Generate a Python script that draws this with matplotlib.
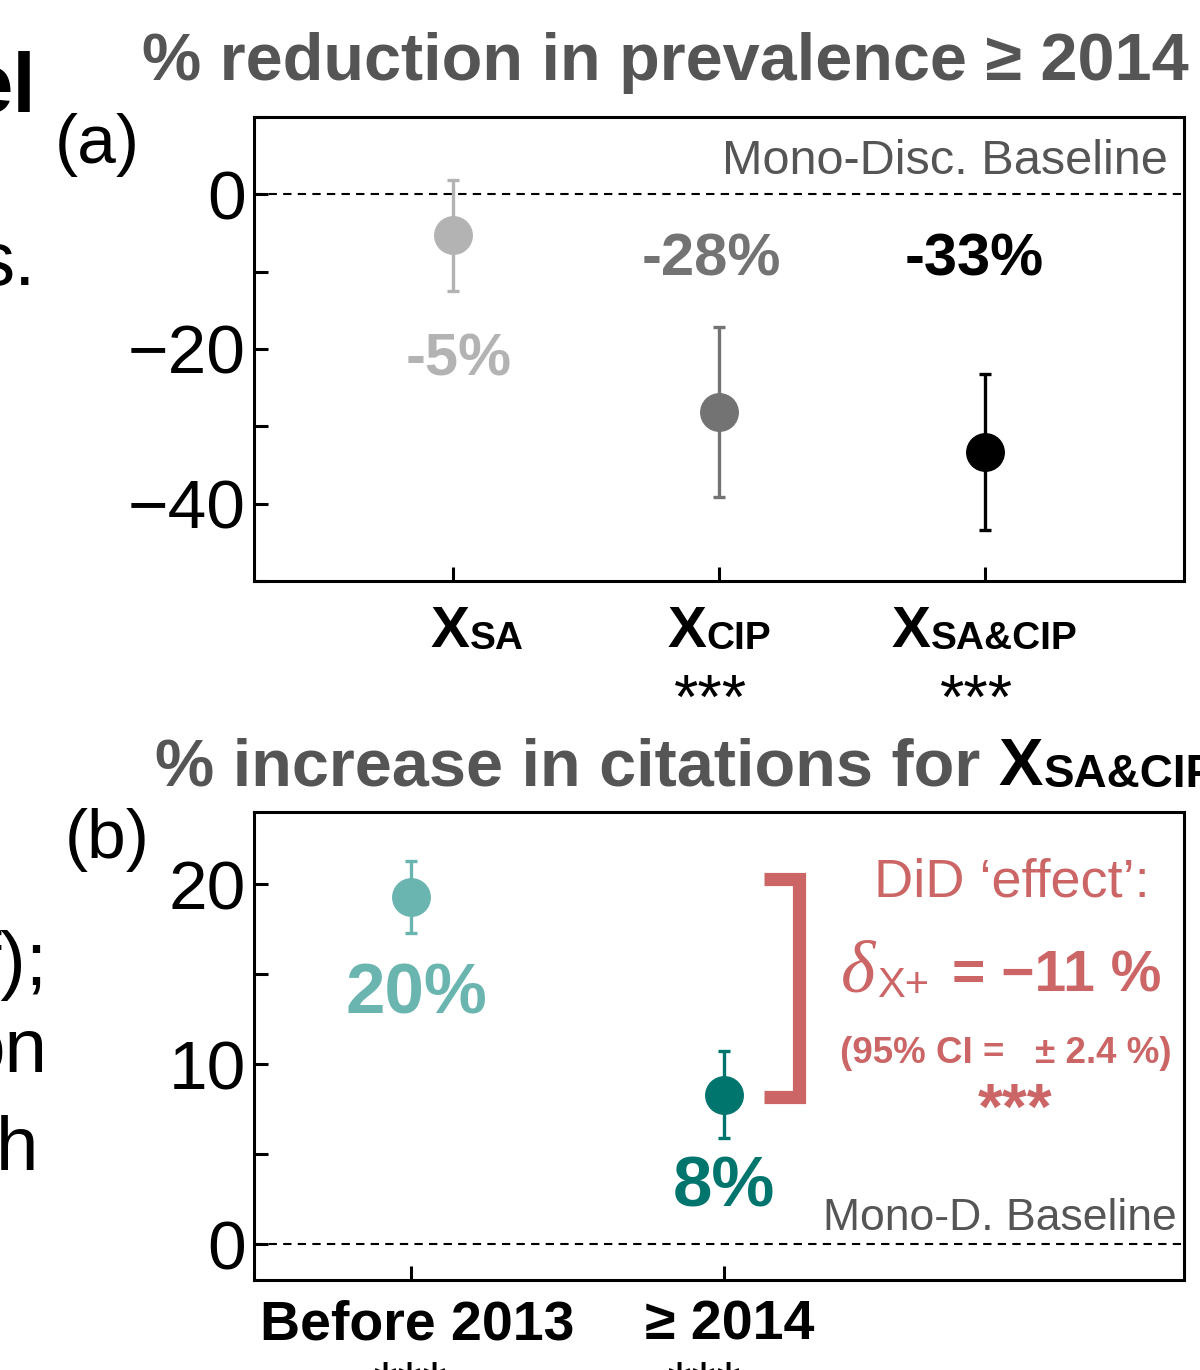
import numpy as np
import matplotlib.pyplot as plt

plt.rcParams['font.family'] = ['Liberation Sans', 'DejaVu Sans']

# panel (a): % reduction in prevalence >= 2014
a_subs = ['SA', 'CIP', 'SA&CIP']
a_mean = [-5.3, -28.1, -33.3]
a_low = [-12.5, -39.1, -43.4]
a_high = [1.9, -17.2, -23.2]
a_labels = ['-5%', '-28%', '-33%']
a_stars = ['', '***', '***']
a_colors = ['#b3b3b3', '#737373', '#000000']

# panel (b): % increase in citations for X_SA&CIP
b_names = ['Before 2013', '\u2265 2014']
b_mean = [19.3, 8.3]
b_low = [17.3, 5.9]
b_high = [21.3, 10.7]
b_labels = ['20%', '8%']
b_colors = ['#6bb5b1', '#00756e']
did_effect = '\u221211 %'
did_ci = '(95% CI =   \u00b1 2.4 %)'

W, H = 1200, 1370
GRAY = '#555555'
SALMON = '#cc6666'


def fx(x):
    return x / W


def fy(y):
    return 1 - y / H


def style(ax):
    for s in ax.spines.values():
        s.set_linewidth(2.2)
    ax.tick_params(axis='y', which='major', direction='in', length=10, width=2.2,
                   labelsize=50, pad=6)
    ax.tick_params(axis='y', which='minor', direction='in', length=10, width=2.2)
    ax.tick_params(axis='x', direction='in', length=10, width=2.2)


def x_sub(fig, xc, ybase, sub, size_main, size_sub, color='black'):
    # bold X with a smaller subscript, centred on xc (pixels)
    r = fig.canvas.get_renderer()
    t1 = fig.text(0, fy(ybase), 'X', fontsize=size_main, fontweight='bold',
                  color=color, ha='left', va='baseline')
    t2 = fig.text(0, fy(ybase + 2), sub, fontsize=size_sub, fontweight='bold',
                  color=color, ha='left', va='baseline')
    w1 = t1.get_window_extent(r).width
    w2 = t2.get_window_extent(r).width
    left = xc - (w1 + w2) / 2
    t1.set_x(left / W)
    t2.set_x((left + w1) / W)


fig = plt.figure(figsize=(12, 13.7), dpi=100)

# ---- panel (a)
ax1 = fig.add_axes([fx(254), fy(581), 930 / W, 464 / H])
xa = np.arange(1, len(a_mean) + 1)
ax1.axhline(0, color='black', lw=1.5, ls=(0, (4, 3)), zorder=1)
for i in range(len(xa)):
    ax1.errorbar(xa[i], a_mean[i],
                 yerr=[[a_mean[i] - a_low[i]], [a_high[i] - a_mean[i]]],
                 fmt='o', color=a_colors[i], ms=27, elinewidth=2.4,
                 capsize=4, capthick=2.4, zorder=3)
ax1.set_xlim(0.25, 3.75)
ax1.set_ylim(-50, 10)
ax1.set_yticks([0, -20, -40])
ax1.set_yticklabels(['0', '\u221220', '\u221240'])
ax1.set_yticks([10, -10, -30, -50], minor=True)
ax1.set_xticks(xa)
ax1.set_xticklabels([])
style(ax1)

ax1.text(xa[0] + 0.02, -21.4, a_labels[0], color=a_colors[0], fontsize=43,
         fontweight='bold', ha='center', va='center')
ax1.text(xa[1] - 0.03, -8.5, a_labels[1], color=a_colors[1], fontsize=43,
         fontweight='bold', ha='center', va='center')
ax1.text(xa[2] - 0.04, -8.5, a_labels[2], color=a_colors[2], fontsize=43,
         fontweight='bold', ha='center', va='center')
ax1.text(0.983, 0.905, 'Mono-Disc. Baseline', transform=ax1.transAxes,
         color=GRAY, fontsize=35, ha='right', va='center')

trans1 = ax1.get_xaxis_transform()
for i in range(len(xa)):
    xc = ax1.transData.transform((xa[i], 0))[0]
    x_sub(fig, xc + (24 if i == 0 else 0), 647, a_subs[i], 42, 28)
    if a_stars[i]:
        ax1.text(xa[i] - 0.03, -137 / 464, a_stars[i], transform=trans1, fontsize=45,
                 ha='center', va='baseline', clip_on=False)

# ---- panel (b)
ax2 = fig.add_axes([fx(254), fy(1280), 930 / W, 468 / H])
xb = np.arange(1, len(b_mean) + 1)
ax2.axhline(0, color='black', lw=1.5, ls=(0, (4, 3)), zorder=1)
for i in range(len(xb)):
    ax2.errorbar(xb[i], b_mean[i],
                 yerr=[[b_mean[i] - b_low[i]], [b_high[i] - b_mean[i]]],
                 fmt='o', color=b_colors[i], ms=27, elinewidth=2.4,
                 capsize=4, capthick=2.4, zorder=3)
ax2.set_xlim(0.5, 3.47)
ax2.set_ylim(-2, 24)
ax2.set_yticks([0, 10, 20])
ax2.set_yticks([5, 15], minor=True)
ax2.set_xticks(xb)
ax2.set_xticklabels([])
style(ax2)

ax2.text(xb[0] + 0.02, 13.8, b_labels[0], color=b_colors[0], fontsize=51,
         fontweight='bold', ha='center', va='center')
ax2.text(xb[1], 3.1, b_labels[1], color=b_colors[1], fontsize=51,
         fontweight='bold', ha='center', va='center')
ax2.text(0.992, 0.132, 'Mono-D. Baseline', transform=ax2.transAxes,
         color=GRAY, fontsize=32, ha='right', va='center')

# DiD bracket between the two estimates
bx0, bx1 = 2.13, 2.24
btop, bbot = b_mean[0] + 1.0, b_mean[1] - 0.15
ax2.plot([bx0, bx1, bx1, bx0], [btop, btop, bbot, bbot], color=SALMON,
         lw=9.5, solid_joinstyle='miter', solid_capstyle='butt', zorder=2)

ax2.text(2.92, 20.1, 'DiD \u2018effect\u2019:', color=SALMON, fontsize=39,
         ha='center', va='center')
ax2.text(2.375, 14.0, '\u03b4', color=SALMON, fontsize=53, style='italic',
         family=['Liberation Serif', 'DejaVu Serif'], ha='left', va='baseline')
ax2.text(2.49, 13.7, 'X+', color=SALMON, fontsize=30, ha='left', va='baseline')
ax2.text(2.73, 14.0, '= ' + did_effect, color=SALMON, fontsize=41,
         fontweight='bold', ha='left', va='baseline')
ax2.text(2.9, 10.6, did_ci, color=SALMON, fontsize=26.5, fontweight='bold',
         ha='center', va='center')
ax2.text(2.93, 6.4, '***', color=SALMON, fontsize=46, fontweight='bold',
         ha='center', va='baseline')

trans2 = ax2.get_xaxis_transform()
for i in range(len(xb)):
    ax2.text(xb[i] + 0.02, -60 / 468, b_names[i], transform=trans2, fontsize=40,
             fontweight='bold', ha='center', va='baseline', clip_on=False)
    ax2.text(xb[i] - 0.06 * i, -126 / 468, '***', transform=trans2, fontsize=46,
             ha='center', va='baseline', clip_on=False)

# ---- titles and panel letters
fig.text(fx(665), fy(80), '% reduction in prevalence \u2265 2014', color=GRAY,
         fontsize=48, fontweight='bold', ha='center', va='baseline')
t2 = fig.text(fx(155), fy(785), '% increase in citations for ', color=GRAY,
              fontsize=48, fontweight='bold', ha='left', va='baseline')
fig.text(fx(55), fy(145), '(a)', fontsize=50, ha='left', va='center')
fig.text(fx(65), fy(840), '(b)', fontsize=50, ha='left', va='center')

r = fig.canvas.get_renderer()
bb = t2.get_window_extent(r)
t3 = fig.text(bb.x1 / W, fy(785), 'X', color='black', fontsize=48,
              fontweight='bold', ha='left', va='baseline')
bb3 = t3.get_window_extent(r)
fig.text(bb3.x1 / W, fy(787), 'SA&CIP', color='black', fontsize=33,
         fontweight='bold', ha='left', va='baseline')

# text cut off from the neighbouring panel
fig.text(fx(36), fy(112), 'el', fontsize=60, fontweight='bold', ha='right', va='baseline')
fig.text(fx(36), fy(285), 's.', fontsize=55, ha='right', va='baseline')
fig.text(fx(48), fy(985), 'f);', fontsize=55, ha='right', va='baseline')
fig.text(fx(48), fy(1072), 'on', fontsize=55, ha='right', va='baseline')
fig.text(fx(38), fy(1170), 'h', fontsize=55, ha='right', va='baseline')

fig.savefig('out.png', dpi=100)
